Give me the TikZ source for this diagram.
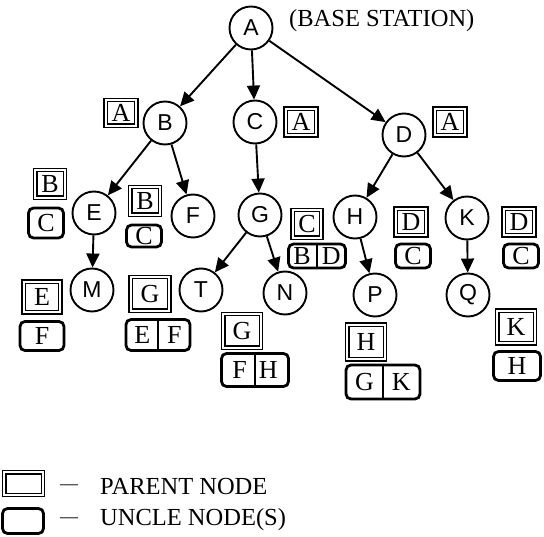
\documentclass[tikz,border=0pt]{standalone}
\usepackage{fontspec}
\setmainfont{Liberation Serif}
\setsansfont{Liberation Sans}
\usetikzlibrary{arrows.meta}
\begin{document}
\begin{tikzpicture}[x=1pt,y=-1pt,
  circ/.style={circle,draw,line width=1.9pt,minimum size=43pt,inner sep=0pt,
    font=\sffamily\fontsize{23}{23}\selectfont},
  pbox/.style={draw,line width=1.1pt,inner sep=0pt,
    font=\fontsize{26}{26}\selectfont},
  pinner/.style={line width=1.1pt},
  ubox/.style={draw,rounded corners=5pt,line width=2.8pt,inner sep=0pt,
    font=\fontsize{26}{26}\selectfont},
  sz/.style 2 args={minimum width=#1pt,minimum height=#2pt},
  divider/.style={line width=2.4pt},
  arr/.style={line width=1.9pt,-{Triangle[length=14pt,width=13pt]}},
  txt/.style={inner sep=0pt,anchor=west,font=\fontsize{24.5}{24.5}\selectfont}]
\useasboundingbox (0,0) rectangle (544,537);
% tree nodes
\node[circ] (A) at (251,28) {A};
\node[circ] (B) at (165,123) {B};
\node[circ] (C) at (255,122) {C};
\node[circ] (D) at (404,135) {D};
\node[circ] (E) at (94,213) {E};
\node[circ] (F) at (193,216) {F};
\node[circ] (G) at (260,215) {G};
\node[circ] (H) at (355,217) {H};
\node[circ] (K) at (467,218) {K};
\node[circ] (M) at (92,290) {M};
\node[circ] (T) at (201,290) {T};
\node[circ] (N) at (285,293) {N};
\node[circ] (P) at (375,295) {P};
\node[circ] (Q) at (468,295) {Q};
% edges
\draw[arr] (A) -- (B);
\draw[arr] (A) -- (C);
\draw[arr] (A) -- (D);
\draw[arr] (B) -- (E);
\draw[arr] (B) -- (F);
\draw[arr] (C) -- (G);
\draw[arr] (D) -- (H);
\draw[arr] (D) -- (K);
\draw[arr] (E) -- (M);
\draw[arr] (G) -- (T);
\draw[arr] (G) -- (N);
\draw[arr] (H) -- (P);
\draw[arr] (K) -- (Q);
% base station label
\node[txt] (bs) at (289,21) {(BASE STATION)};
% parent boxes
\node[pbox,sz={34}{29}] (pB) at (121,113) {A};
\node[pbox,sz={34}{30}] (pC) at (301,122) {A};
\node[pbox,sz={34}{30}] (pD) at (450,122) {A};
\node[pbox,sz={33}{31}] (pE) at (50,184) {B};
\node[pbox,sz={33}{31}] (pF) at (145,201) {B};
\node[pbox,sz={32}{31}] (pG) at (307,224) {C};
\node[pbox,sz={34}{30}] (pH) at (411,222) {D};
\node[pbox,sz={34}{30}] (pK) at (519,222) {D};
\node[pbox,sz={40}{34}] (pM) at (42,297) {E};
\node[pbox,sz={42}{37}] (pT) at (150,294) {G};
\node[pbox,sz={41}{37}] (pN) at (242,331) {G};
\node[pbox,sz={41}{38}] (pP) at (366,342) {H};
\node[pbox,sz={41}{36}] (pQ) at (516,327) {K};
\node[pbox,sz={42}{26}] (lp) at (23.5,483.5) {};
\foreach \n in {pB,pC,pD,pE,pF,pG,pH,pK,pM,pT,pN,pP,pQ,lp}
  \draw[pinner] ([shift={(4,4)}]\n.north west) rectangle ([shift={(-4,-4)}]\n.south east);
% uncle boxes
\node[ubox,sz={35}{30}] (uE) at (46,223) {C};
\node[ubox,sz={35}{22}] (uF) at (144,236) {C};
\node[ubox,sz={57}{24}] (uG) at (317,256) {B\hspace{11pt}D};
\draw[divider] (uG.north) -- (uG.south);
\node[ubox,sz={35}{24}] (uH) at (413,256) {C};
\node[ubox,sz={35}{24}] (uK) at (521,256) {C};
\node[ubox,sz={44}{29}] (uM) at (42,336) {F};
\node[ubox,sz={64}{31}] (uT) at (158,335) {E\hspace{17pt}F};
\draw[divider] (uT.north) -- (uT.south);
\node[ubox,sz={67}{33}] (uN) at (255,370) {F\hspace{12pt}H};
\draw[divider] (uN.north) -- (uN.south);
\node[ubox,sz={74}{34}] (uP) at (383,382) {G\hspace{18pt}K};
\draw[divider] (uP.north) -- (uP.south);
\node[ubox,sz={47}{29}] (uQ) at (517,366) {H};
% legend
\node[ubox,sz={41}{25}] (lu) at (23,521) {};
\node[txt,font=\fontsize{18}{18}\selectfont] (d1) at (60,487) {\textemdash};
\node[txt,font=\fontsize{18}{18}\selectfont] (d2) at (60,520) {\textemdash};
\node[txt] (lt1) at (100,487) {PARENT NODE};
\node[txt] (lt2) at (100,520) {UNCLE NODE(S)};
\end{tikzpicture}
\end{document}
